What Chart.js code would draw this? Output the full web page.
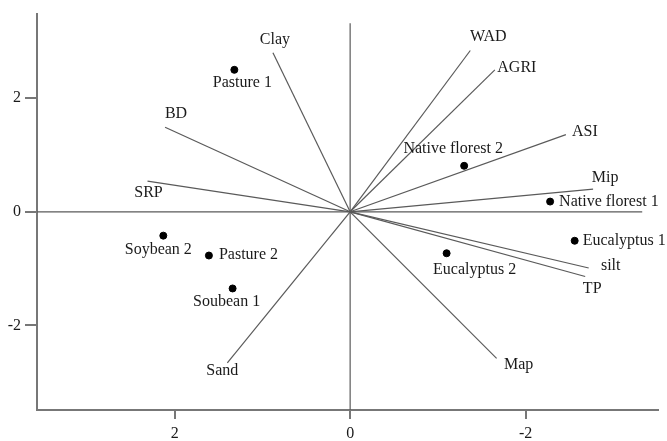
<!DOCTYPE html>
<html>
<head>
<meta charset="utf-8">
<script src="https://cdn.jsdelivr.net/npm/chart.js@4/dist/chart.umd.min.js"></script>
<style>
  html, body { margin: 0; padding: 0; background: #fff; }
  #wrap { width: 667px; height: 441px; position: relative; }
</style>
</head>
<body>
<div id="wrap"><canvas id="c" width="667" height="441"></canvas></div>
<script>
// ---- data ----
const variables = ['Clay', 'BD', 'SRP', 'WAD', 'AGRI', 'ASI', 'Mip', 'silt', 'TP', 'Map', 'Sand'];
const variableX = [0.88, 2.11, 2.31, -1.37, -1.65, -2.46, -2.77, -2.72, -2.68, -1.67, 1.40];
const variableY = [2.80, 1.49, 0.54, 2.84, 2.50, 1.36, 0.40, -0.99, -1.14, -2.58, -2.66];

const sites = ['Pasture 1', 'Native florest 2', 'Native florest 1', 'Soybean 2', 'Pasture 2', 'Soubean 1', 'Eucalyptus 1', 'Eucalyptus 2'];
const siteX = [1.32, -1.30, -2.28, 2.13, 1.61, 1.34, -2.56, -1.10];
const siteY = [2.50, 0.81, 0.18, -0.42, -0.77, -1.35, -0.51, -0.73];

const xTickValues = [2, 0, -2];
const yTickValues = [2, 0, -2];

// ---- label placement (pixel offsets, style only) ----
const varLabelPlace = {
  'Clay': [2, -13, 'center'], 'BD': [11, -13, 'center'], 'SRP': [1, 12, 'center'],
  'WAD': [18, -14, 'center'], 'AGRI': [22, -2, 'center'], 'ASI': [19, -3, 'center'],
  'Mip': [12, -11, 'center'], 'silt': [22, -2, 'center'], 'TP': [7, 12, 'center'],
  'Map': [22, 6, 'center'], 'Sand': [-5, 8, 'center']
};
const siteLabelPlace = {
  'Pasture 1': [8, 13, 'center'], 'Native florest 2': [-11, -17, 'center'],
  'Native florest 1': [9, 0, 'left'], 'Soybean 2': [-5, 14, 'center'],
  'Pasture 2': [10, -1, 'left'], 'Soubean 1': [-6, 13, 'center'],
  'Eucalyptus 1': [8, 0, 'left'], 'Eucalyptus 2': [28, 17, 'center']
};

const FONT = '16px "Liberation Serif", "Times New Roman", serif';
const LINE = '#5a5a5a';
const AXIS = '#777777';

const datasets = [];
// crosshair lines through origin
datasets.push({ type: 'line', data: [{x: 0, y: 3.32}, {x: 0, y: -3.49}], borderColor: LINE, borderWidth: 1.2, pointRadius: 0 });
datasets.push({ type: 'line', data: [{x: 3.57, y: 0}, {x: -3.33, y: 0}], borderColor: LINE, borderWidth: 1.2, pointRadius: 0 });
// variable vectors
variables.forEach((v, i) => {
  datasets.push({ type: 'line', label: v, data: [{x: 0, y: 0}, {x: variableX[i], y: variableY[i]}],
    borderColor: LINE, borderWidth: 1.2, pointRadius: 0 });
});
// site points
datasets.push({ type: 'scatter', label: 'sites', data: sites.map((s, i) => ({x: siteX[i], y: siteY[i]})),
  backgroundColor: '#000', borderColor: '#000', pointRadius: 3.5 });

const labelPlugin = {
  id: 'labels',
  afterDatasetsDraw(chart) {
    const ctx = chart.ctx, xs = chart.scales.x, ys = chart.scales.y;
    ctx.save();
    ctx.font = FONT;
    ctx.fillStyle = '#1a1a1a';
    ctx.textBaseline = 'middle';
    variables.forEach((v, i) => {
      const p = varLabelPlace[v];
      ctx.textAlign = p[2];
      ctx.fillText(v, xs.getPixelForValue(variableX[i]) + p[0], ys.getPixelForValue(variableY[i]) + p[1]);
    });
    sites.forEach((s, i) => {
      const p = siteLabelPlace[s];
      ctx.textAlign = p[2];
      ctx.fillText(s, xs.getPixelForValue(siteX[i]) + p[0], ys.getPixelForValue(siteY[i]) + p[1]);
    });
    ctx.restore();
  }
};

new Chart(document.getElementById('c'), {
  type: 'scatter',
  data: { datasets },
  plugins: [labelPlugin],
  options: {
    responsive: false,
    animation: false,
    layout: { padding: { top: 12, right: 9, left: 0, bottom: 0 } },
    plugins: { legend: { display: false }, tooltip: { enabled: false } },
    scales: {
      x: {
        type: 'linear', reverse: true, min: -3.51, max: 3.57,
        afterBuildTicks: s => { s.ticks = xTickValues.map(v => ({value: v})); },
        afterFit: s => { s.height = 31; },
        grid: { drawOnChartArea: false, drawTicks: true, tickLength: 9, color: AXIS, lineWidth: 2 },
        border: { display: true, color: AXIS, width: 2 },
        ticks: { font: { family: '"Liberation Serif", serif', size: 16 }, color: '#1a1a1a', padding: 5, maxRotation: 0, autoSkip: false,
          callback: v => String(v) }
      },
      y: {
        type: 'linear', min: -3.49, max: 3.49,
        afterBuildTicks: s => { s.ticks = yTickValues.map(v => ({value: v})); },
        afterFit: s => { s.width = 37; },
        grid: { drawOnChartArea: false, drawTicks: true, tickLength: 12, color: AXIS, lineWidth: 2 },
        border: { display: true, color: AXIS, width: 2 },
        ticks: { font: { family: '"Liberation Serif", serif', size: 16 }, color: '#1a1a1a', padding: 4, autoSkip: false,
          callback: v => String(v) }
      }
    }
  }
});
</script>
</body>
</html>
